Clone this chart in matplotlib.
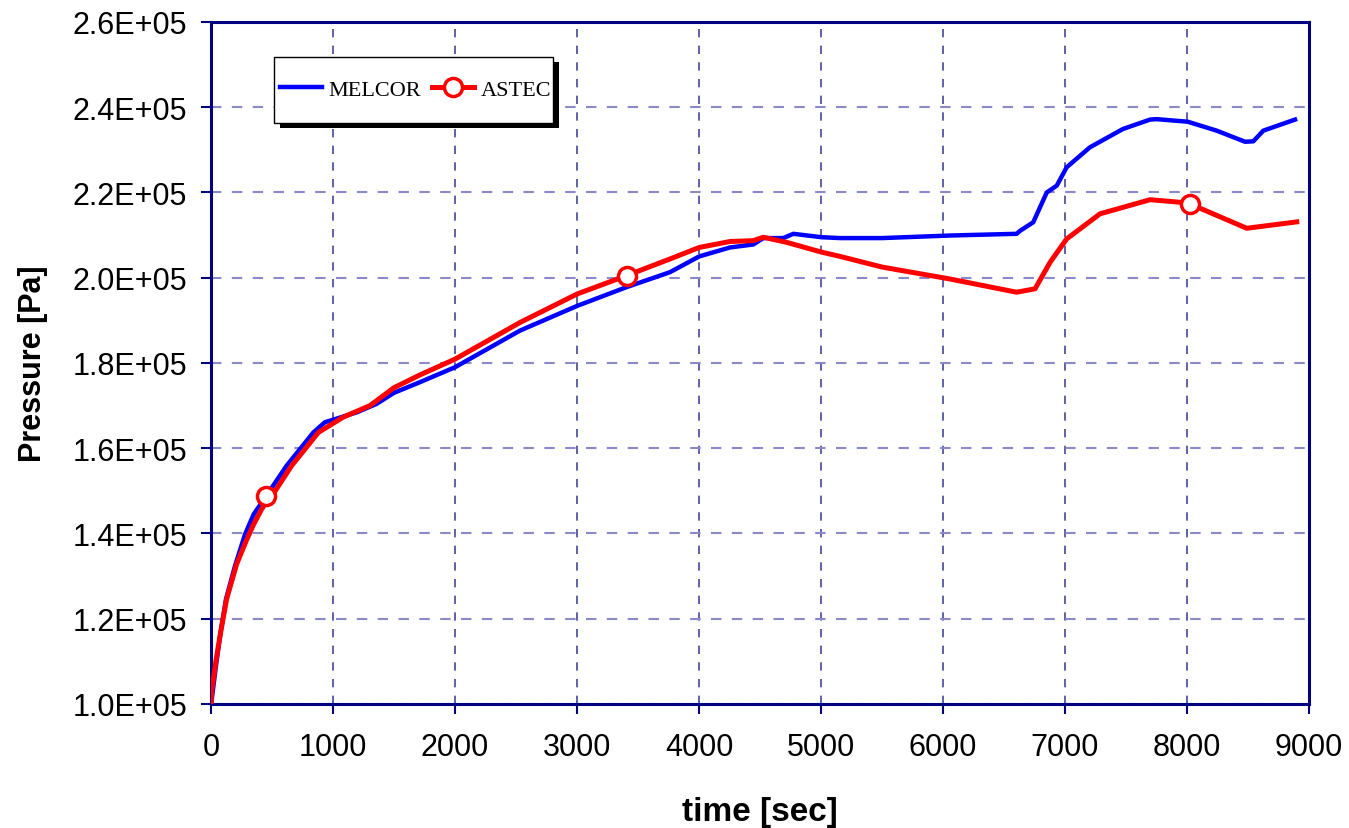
import numpy as np
import matplotlib
matplotlib.use("Agg")
import matplotlib.pyplot as plt
from matplotlib.patches import Rectangle
from matplotlib.ticker import FuncFormatter, MultipleLocator

# MELCOR containment pressure (time in s, pressure in Pa)
t_melcor = [0, 5, 41, 79, 123, 197, 279, 350, 443, 620, 839, 934, 1002, 1193, 1357, 1500,
            1713, 2000, 2533, 3002, 3407, 3762, 4002, 4254, 4445, 4527, 4691, 4773,
            5005, 5156, 5500, 6057, 6603, 6631, 6739, 6850, 6932, 7013, 7204, 7475,
            7697, 7751, 8005, 8243, 8475, 8543, 8625, 8885]
p_melcor = [1.0e5, 1.008e5, 1.09e5, 1.168e5, 1.246e5, 1.324e5, 1.398e5, 1.445e5, 1.484e5,
            1.559e5, 1.637e5, 1.661e5, 1.667e5, 1.684e5, 1.704e5, 1.73e5, 1.755e5, 1.79e5,
            1.876e5, 1.934e5, 1.978e5, 2.013e5, 2.05e5, 2.071e5, 2.078e5, 2.093e5,
            2.093e5, 2.103e5, 2.095e5, 2.093e5, 2.093e5, 2.099e5, 2.103e5, 2.11e5,
            2.13e5, 2.20e5, 2.216e5, 2.259e5, 2.306e5, 2.349e5, 2.371e5, 2.372e5,
            2.366e5, 2.345e5, 2.319e5, 2.32e5, 2.345e5, 2.371e5]

# ASTEC containment pressure
t_astec = [0, 5, 40, 79, 128, 210, 292, 347, 415, 451, 497, 661, 880, 1084, 1303, 1500,
           1713, 2000, 2533, 3002, 3407, 3762, 4002, 4254, 4445, 4527, 4718, 5005, 5156,
           5500, 6057, 6603, 6754, 6877, 7013, 7287, 7697, 7943, 8025, 8489, 8899]
p_astec = [1.0e5, 1.027e5, 1.10e5, 1.168e5, 1.246e5, 1.328e5, 1.385e5, 1.42e5, 1.457e5,
           1.472e5, 1.487e5, 1.559e5, 1.637e5, 1.673e5, 1.70e5, 1.742e5, 1.772e5, 1.809e5,
           1.895e5, 1.962e5, 2.005e5, 2.044e5, 2.071e5, 2.085e5, 2.087e5, 2.095e5,
           2.083e5, 2.06e5, 2.05e5, 2.025e5, 1.997e5, 1.966e5, 1.974e5, 2.036e5,
           2.091e5, 2.15e5, 2.183e5, 2.177e5, 2.173e5, 2.116e5, 2.131e5]
astec_marks = [451, 3407, 8025]
marks_p = [1.487e5, 2.005e5, 2.173e5]

navy = "#000080"

fig = plt.figure(figsize=(13.49, 8.29), dpi=100)
ax = fig.add_axes([0.1564, 0.1496, 0.814, 0.8227])

ax.plot(t_melcor, p_melcor, color="#0000ff", lw=3.2, zorder=3)
ax.plot(t_astec, p_astec, color="#ff0000", lw=3.6, zorder=4)
ax.plot(astec_marks, marks_p, ls="none", marker="o", ms=13, mfc="white",
        mec="#ff0000", mew=2.5, zorder=5)

ax.set_xlim(0, 9000)
ax.set_ylim(1.0e5, 2.6e5)
ax.xaxis.set_major_locator(MultipleLocator(1000))
ax.yaxis.set_major_locator(MultipleLocator(2e4))
ax.yaxis.set_major_formatter(FuncFormatter(lambda v, pos: "{:.1E}".format(v)))

ax.xaxis.grid(True, ls=(0, (5, 5)), color="#45459a", lw=1.2)
ax.yaxis.grid(True, ls=(0, (5, 5)), color="#8a8ac8", lw=1.5)
ax.set_axisbelow(True)

for s in ax.spines.values():
    s.set_color(navy)
    s.set_linewidth(2.2)
ax.tick_params(direction="out", length=7, width=1.5, color=navy, labelsize=22,
               labelcolor="black")
ax.tick_params(axis="x", pad=13)
ax.tick_params(axis="y", pad=10)
for lab in ax.get_xticklabels() + ax.get_yticklabels():
    lab.set_family("Liberation Sans")

ax.set_xlabel("time [sec]", fontsize=24, fontweight="bold", family="Liberation Sans", labelpad=25)
ax.set_ylabel("Pressure [Pa]", fontsize=22, fontweight="bold", family="Liberation Sans", labelpad=18)

# legend box with a hard shadow, like the spreadsheet original
x0, x1, y0, y1 = 0.0574, 0.3115, 0.852, 0.9487
ax.add_patch(Rectangle((x0 + 0.005, y0 - 0.008), x1 - x0, y1 - y0, transform=ax.transAxes,
                       facecolor="black", edgecolor="none", zorder=6))
ax.add_patch(Rectangle((x0, y0), x1 - x0, y1 - y0, transform=ax.transAxes,
                       facecolor="white", edgecolor="black", lw=1.0, zorder=7))
h1, = ax.plot([], [], color="#0000ff", lw=3.2)
h2, = ax.plot([], [], color="#ff0000", lw=3.6, marker="o", ms=13, mfc="white",
              mec="#ff0000", mew=2.5)
leg = ax.legend([h1, h2], ["MELCOR", "ASTEC"], ncol=2, loc="center",
                bbox_to_anchor=((x0 + x1) / 2 + 0.002, (y0 + y1) / 2),
                prop={"family": "Liberation Serif", "size": 16}, frameon=False,
                handlelength=1.9, handletextpad=0.3, columnspacing=0.5,
                borderpad=0.2, borderaxespad=0)
leg.set_zorder(8)

fig.savefig("out.png", dpi=100)
